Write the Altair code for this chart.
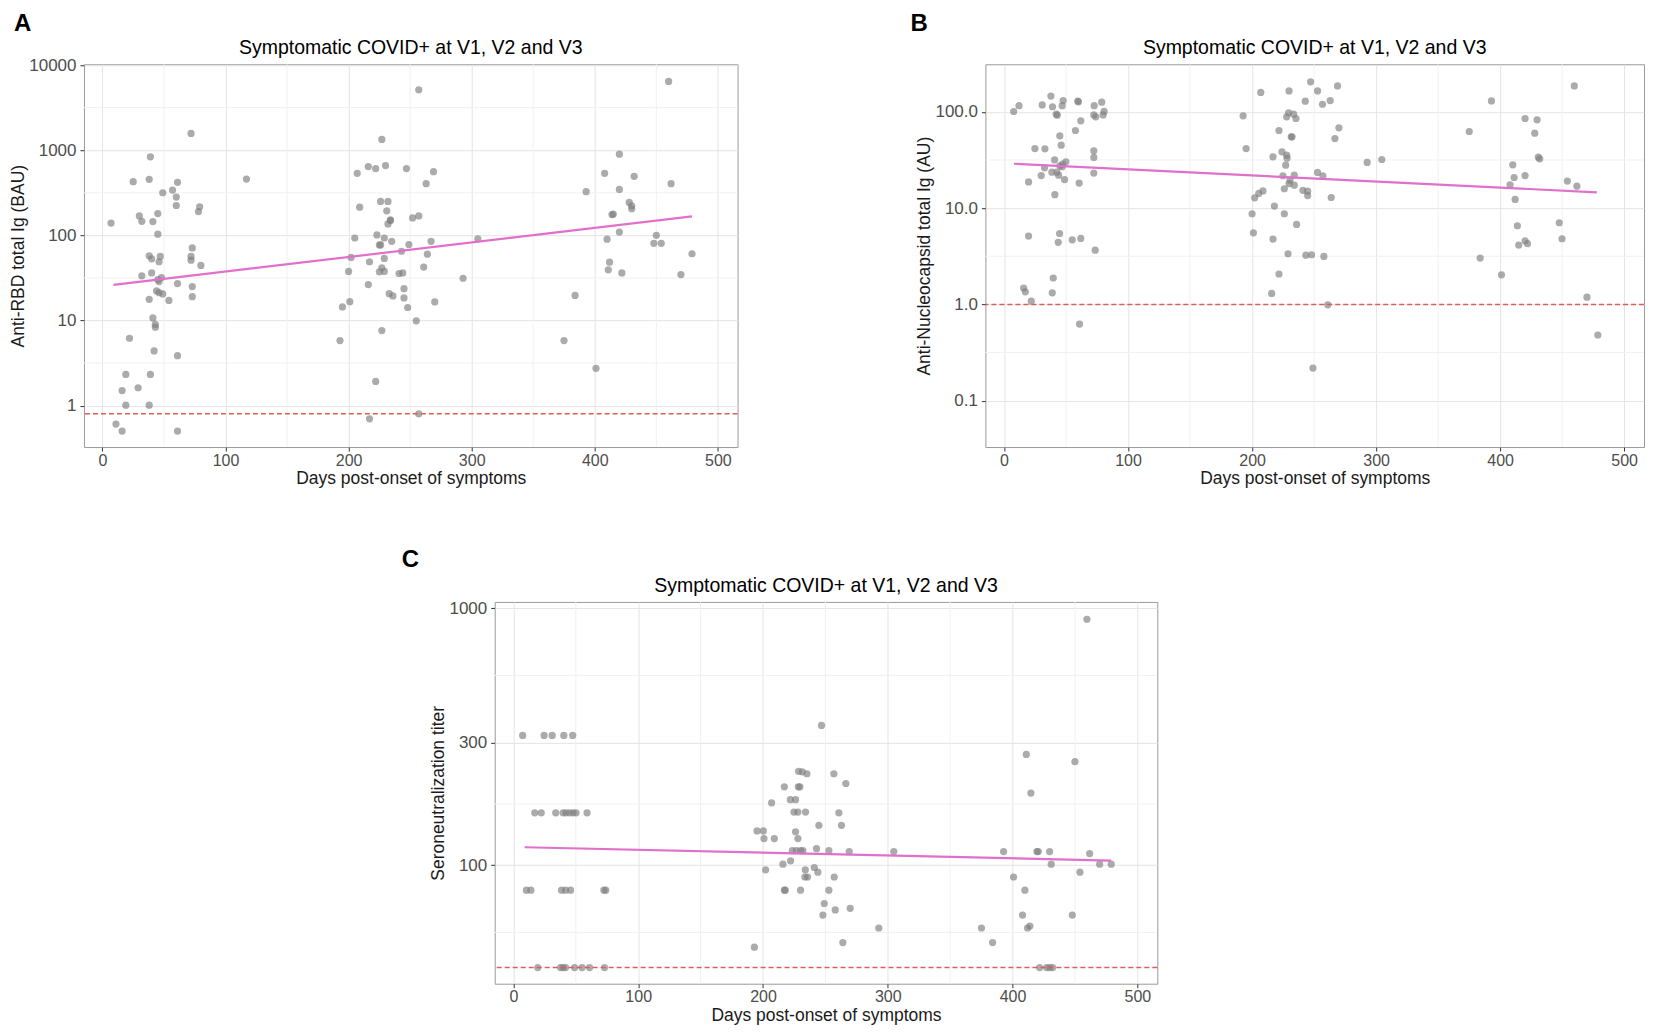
import altair as alt
import pandas as pd

FONT = "Liberation Sans"
TITLE = "Symptomatic COVID+ at V1, V2 and V3"
X_TITLE = "Days post-onset of symptoms"
X_MAJOR = [0, 100, 200, 300, 400, 500]
X_MINOR = [50, 150, 250, 350, 450]
X_DOMAIN = [-15, 516]

# ---------------- Panel A : Anti-RBD total Ig (BAU) ----------------
a_days = [72, 39, 25, 38, 61, 117, 49, 57, 60, 60, 79, 78, 7, 30, 32, 41, 45, 45,
          73, 38, 40, 47, 46, 72, 72, 80, 32, 40, 48, 45, 46, 61, 73, 44, 46, 49,
          38, 54, 73, 41, 43, 43, 22, 42, 61, 19, 39, 29, 16, 19, 38, 11, 16, 61,
          257, 227, 216, 222, 230, 207, 247, 269, 263, 209, 226, 232, 231, 234, 232,
          234, 252, 257, 205, 223, 229, 225, 226, 235, 249, 267, 305, 202, 217, 229,
          243, 264, 200, 225, 229, 227, 241, 244, 261, 293, 216, 233, 236, 245, 245,
          201, 195, 248, 270, 255, 227, 193, 222, 217, 257,
          460, 420, 408, 432, 462, 393, 420, 428, 430, 430, 414, 415, 420, 410, 450,
          448, 454, 479, 412, 411, 422, 470, 384, 375, 401]
a_vals = [1574, 834, 426, 454, 419, 458, 316, 340, 281, 224, 216, 190, 139, 169, 146, 145, 180, 103,
          71, 57.5, 53, 56.5, 48.9, 56.5, 51, 44.3, 33.4, 36.2, 31.9, 30.2, 28.6, 27.1, 25, 22.2, 21.2, 20.5,
          17.7, 17.2, 19.0, 10.7, 8.97, 8.34, 6.18, 4.38, 3.86, 2.32, 2.32, 1.62, 1.50, 1.01, 1.01, 0.607, 0.502, 0.502,
          5117, 1337, 641, 607, 659, 535, 607, 559, 404, 214, 250, 250, 194, 152, 136,
          149, 160, 169, 93, 101, 93, 77, 77, 85, 78, 85, 91, 55, 48.9, 53.5,
          65, 60, 37.6, 37.2, 37.6, 41.5, 35.6, 36.2, 42.3, 31.3, 26.4, 20.6, 19.4, 23.6, 18.4,
          16.6, 14.4, 14.2, 16.5, 9.9, 7.6, 5.8, 1.92, 0.70, 0.80,
          6412, 897, 535, 493, 404, 325, 346, 243, 222, 205, 175, 177, 109, 90, 100,
          80.5, 80.5, 60.7, 48.4, 39.3, 36.2, 34.6, 19.7, 5.8, 2.74]
a_fit_days = [9, 479]
a_fit_vals = [26.2, 166.7]
a_threshold = [0.8]
a_y_major = [1, 10, 100, 1000, 10000]
a_y_minor = [3.16, 31.6, 316, 3162]

# ---------------- Panel B : Anti-Nucleocapsid total Ig (AU) ----------------
b_days = [7.8, 12.1, 30.8, 37.8, 39.1, 42.1, 42.9, 47.7, 46.9, 59.5, 60, 72.7, 78.8, 72.4, 74, 79.9,
          80.7, 61.9, 57.6, 45, 46.1, 24.9, 33, 72.4, 72.4, 40.8, 49.9, 47.2, 45, 32.7, 46.9, 38.6,
          42.6, 30, 44, 72.4, 19.8, 48.8, 60.6, 41, 19.8, 44.8, 43.7, 55, 61.9, 73.5, 39.7, 15.8,
          17.2, 38.9, 22, 60.9,
          247.2, 268.9, 207, 229.8, 252.8, 242.9, 256.8, 263, 192.8, 229.5, 233.5, 227.9, 235.4,
          221.7, 231.6, 232.2, 270, 266.8, 195.2, 224.1, 216.9, 227.9, 228.2, 227.1, 292.8, 304.6,
          224.9, 234, 252.8, 257.1, 230.6, 229.8, 234, 226, 241, 244.8, 244.8, 263.8, 208.8, 205.4,
          202.1, 218, 200, 226, 235.9, 201.1, 216.9, 229, 243.4, 248, 257.9, 221.7, 215.8, 261.1, 249.1,
          459.8, 393, 375.1, 420.1, 429.8, 427.9, 430.8, 431.9, 410.2, 411.3, 420.1, 408, 454.2,
          461.9, 412.1, 413.9, 447.7, 449.9, 415, 420.1, 422, 383.9, 401.1, 470, 478.8]
b_vals = [100.8, 116, 118, 146, 113, 94.6, 92.3, 131, 116, 129, 127, 116, 126, 93, 88.8, 93,
          101, 80.7, 64, 56.3, 45.1, 41.6, 41.3, 39.4, 33.6, 31.7, 30.3, 28.6, 27.5, 26.2, 26.9, 23.6,
          23.6, 21.8, 22, 23.1, 18.7, 19.8, 18.2, 13.8, 5.12, 5.45, 4.41, 4.69, 4.84, 3.66, 1.88, 1.48,
          1.35, 1.32, 1.08, 0.625,
          205, 186, 159, 165, 165, 129, 120, 131, 90.9, 97.7, 94.6, 88.8, 85.3,
          64, 55, 55, 68.2, 52.8, 41.6, 38.4, 34.1, 35.5, 33, 27.9, 29.8, 32,
          21.7, 22, 23.5, 21.7, 19.5, 18, 17.3, 15.9, 15.3, 15, 13.5, 12.9, 15.1, 14.2,
          12.8, 10.5, 8.74, 8.74, 6.77, 5.54, 4.77, 3.36, 3.25, 3.28, 3.15, 2.07, 1.30, 0.99, 0.218,
          186, 130, 62.5, 85.3, 82.6, 60.1, 33.8, 32.5, 28.2, 20.8, 21.8, 17.5, 19.1,
          16.9, 12.3, 6.56, 7.05, 4.81, 4.13, 4.58, 4.27, 3.03, 2.03, 1.19, 0.481]
b_fit_days = [8, 478]
b_fit_vals = [28.9, 14.6]
b_threshold = [1.0]
b_y_major = [0.1, 1, 10, 100]
b_y_minor = [0.316, 3.16, 31.6]

# ---------------- Panel C : Seroneutralization titer ----------------
c_days = [7.4, 24.6, 31.1, 40.4, 47.5,
          17.1, 22.3, 33.9, 39.8, 42.2, 45, 47.8, 50.2, 59,
          10.4, 14, 38.6, 41.8, 45.8, 72.5, 74,
          19.5, 37.8, 39.8, 41.8, 49, 55, 61, 73,
          246.9, 228.5, 231.5, 235.2, 256.8, 266.4, 217.1, 228.3, 229.6, 206.9, 221.9, 226.1,
          224.8, 228, 234.1, 260.8, 244.8, 262.9, 195.2, 200.3, 226.1, 200.8, 209.1, 228,
          223.5, 226.7, 230.1, 232, 242.9, 252.8, 269.1, 304.8, 222.1, 216, 202.1, 233.9,
          241.1, 244, 233.6, 235.7, 257.1, 217.1, 217.9, 230.1, 252.8, 249.1, 248, 257.9,
          269.9, 292.8, 264, 193.1,
          459.6, 411, 450, 414.7, 392.8, 419.5, 420.6, 429.7, 461.8, 431, 469.8, 479.1, 454,
          400.8, 409.9, 408, 447.9, 375.1, 412, 413.9, 384, 421.7, 427.3, 429.7, 432.1]
c_vals = [320, 320, 320, 320, 320,
          160, 160, 160, 160, 160, 160, 160, 160, 160,
          80, 80, 80, 80, 80, 80, 80,
          40, 40, 40, 40, 40, 40, 40, 40,
          350, 232, 231, 227, 227, 208, 202, 202, 202, 175, 180, 180,
          161, 161, 161, 160, 143, 143, 136, 136, 135, 127, 127, 127,
          114, 114, 114, 114, 116, 114, 113, 113, 104, 101, 96, 96,
          98, 94, 90, 90, 90, 80, 80, 80, 80, 71, 64, 67,
          68, 57, 50, 48,
          906, 270, 253, 191, 113, 113, 113, 113, 111, 101, 101, 101, 94,
          90, 80, 64, 64, 57, 57, 58, 50, 40, 40, 40, 40]
c_fit_days = [9, 479]
c_fit_vals = [117.5, 104.3]
c_threshold = [40]
c_y_major = [100, 300, 1000]
c_y_minor = [54.8, 173, 548]

GRID_MAJOR = "#E4E4E4"
GRID_MINOR = "#F1F1F1"
POINT_COLOR = "#7f7f7f"
FIT_COLOR = "#E070CC"
THRESH_COLOR = "#D9605A"


def panel(days, vals, fit_days, fit_vals, thresh, y_major, y_minor, y_domain,
          y_title, y_format, letter, letter_x, letter_y, width, height):
    xs = alt.Scale(domain=X_DOMAIN, nice=False, zero=False)
    ys = alt.Scale(type="log", domain=y_domain, nice=False)
    common = dict(grid=True, gridColor=GRID_MAJOR, gridWidth=1, domain=False,
                  tickColor="#333333", tickSize=4, tickWidth=1,
                  labelColor="#4D4D4D", labelFont=FONT,
                  labelFlush=False, labelOverlap=False,
                  titleFont=FONT, titleFontSize=17.5, titleFontWeight="normal",
                  titleColor="#1A1A1A")
    xaxis = alt.Axis(values=X_MAJOR, format="d", title=X_TITLE, labelPadding=1,
                     labelFontSize=16, titlePadding=1.5, **common)
    yaxis = alt.Axis(values=y_major, format=y_format, title=y_title, labelPadding=4,
                     labelFontSize=17, titlePadding=1.5, **common)

    def X(f):
        return alt.X(f, type="quantitative", scale=xs, axis=xaxis)

    def Y(f):
        return alt.Y(f, type="quantitative", scale=ys, axis=yaxis)

    xminor = alt.Chart(pd.DataFrame({"day": X_MINOR})).mark_rule(
        color=GRID_MINOR, strokeWidth=1).encode(x=X("day"))
    yminor = alt.Chart(pd.DataFrame({"val": y_minor})).mark_rule(
        color=GRID_MINOR, strokeWidth=1).encode(y=Y("val"))
    pts = alt.Chart(pd.DataFrame({"day": days, "val": vals})).mark_circle(
        color=POINT_COLOR, opacity=0.66, size=52).encode(x=X("day"), y=Y("val"))
    fit = alt.Chart(pd.DataFrame({"day": fit_days, "val": fit_vals})).mark_line(
        color=FIT_COLOR, strokeWidth=2.2).encode(x=X("day"), y=Y("val"))
    th = alt.Chart(pd.DataFrame({"val": thresh})).mark_rule(
        color=THRESH_COLOR, strokeWidth=1.5, strokeDash=[5, 3]).encode(y=Y("val"))
    lab = alt.Chart(pd.DataFrame({"t": [letter]})).mark_text(
        align="left", baseline="alphabetic", font=FONT, fontSize=24,
        fontWeight="bold", color="black").encode(
        text="t:N", x=alt.value(letter_x), y=alt.value(letter_y))
    ttl = alt.Chart(pd.DataFrame({"t": [TITLE]})).mark_text(
        align="center", baseline="alphabetic", font=FONT, fontSize=19.5,
        color="black").encode(
        text="t:N", x=alt.value(width / 2), y=alt.value(-10))
    return alt.layer(xminor, yminor, pts, th, fit, lab, ttl).properties(
        width=width, height=height)


pa = panel(a_days, a_vals, a_fit_days, a_fit_vals, a_threshold, a_y_major, a_y_minor,
           [0.326, 10200], "Anti-RBD total Ig (BAU)", "d", "A", -70, -33, 654, 383)
pb = panel(b_days, b_vals, b_fit_days, b_fit_vals, b_threshold, b_y_major, b_y_minor,
           [0.033, 312], "Anti-Nucleocapsid total Ig (AU)", ".1f", "B", -75, -33, 659, 383)
pc = panel(c_days, c_vals, c_fit_days, c_fit_vals, c_threshold, c_y_major, c_y_minor,
           [34.6, 1058], "Seroneutralization titer", "d", "C", -93, -35, 663, 382)

spacer = alt.Chart(pd.DataFrame({"v": [0]})).mark_point(opacity=0, size=1).encode(
    x=alt.value(0), y=alt.value(0)).properties(
    width=316, height=1, view=alt.ViewBackground(stroke="transparent"))

row1 = alt.hconcat(pa, pb, spacing=170)
row2 = alt.hconcat(spacer, pc, spacing=0)
chart = alt.vconcat(row1, row2, spacing=59).properties(
    padding={"left": 0, "top": 3, "right": 0, "bottom": 0},
    background="white"
).configure_view(stroke="#9A9A9A", strokeWidth=1)

chart.save("out.html", embed_options={"renderer": "svg", "actions": False})
